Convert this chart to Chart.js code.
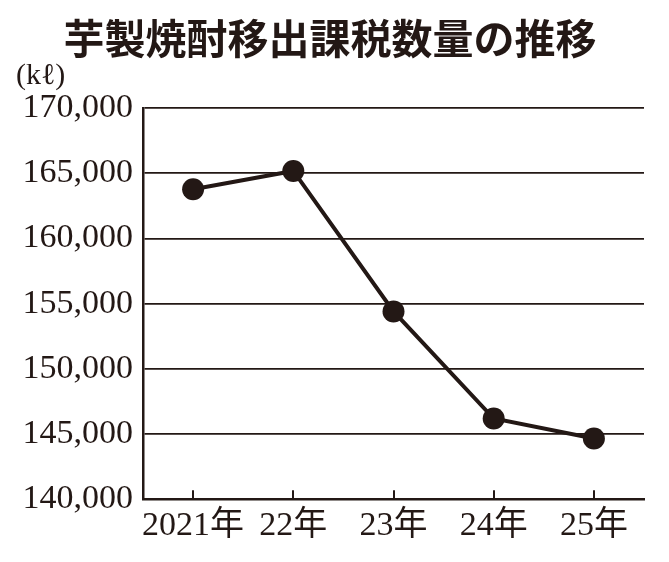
<!DOCTYPE html>
<html>
<head>
<meta charset="utf-8">
<script src="https://cdn.jsdelivr.net/npm/chart.js@4/dist/chart.umd.min.js"></script>
<style>
html,body{margin:0;padding:0;background:#fff;}
#wrap{width:669px;height:562px;}
</style>
</head>
<body>
<div id="wrap"><canvas id="c" width="669" height="562"></canvas></div>
<script>
const TITLE = '芋製焼酎移出課税数量の推移';
const UNIT = '(kℓ)';
const categories = ['2021年', '22年', '23年', '24年', '25年'];
const volumes = [163770, 165180, 154400, 146190, 144650];
const yMin = 140000;
const yMax = 170000;
const yStep = 5000;

const INK = '#231815';
const serif = "'Liberation Serif', 'Noto Sans CJK JP', serif";

const innerTicks = {
  id: 'innerTicks',
  afterDatasetsDraw(chart) {
    const x = chart.scales.x;
    const ctx = chart.ctx;
    ctx.save();
    ctx.strokeStyle = INK;
    ctx.lineWidth = 2;
    for (let i = 0; i < x.ticks.length; i++) {
      const px = Math.round(x.getPixelForTick(i));
      ctx.beginPath();
      ctx.moveTo(px, x.top);
      ctx.lineTo(px, x.top - 9);
      ctx.stroke();
    }
    ctx.restore();
  }
};

new Chart(document.getElementById('c'), {
  type: 'line',
  data: {
    labels: categories,
    datasets: [{
      data: volumes,
      borderColor: INK,
      borderWidth: 4,
      backgroundColor: INK,
      pointRadius: 11,
      pointHoverRadius: 11,
      pointBorderWidth: 0,
      pointBackgroundColor: INK,
      tension: 0
    }]
  },
  options: {
    responsive: false,
    animation: false,
    devicePixelRatio: 1,
    layout: { padding: { left: 16, right: 25, top: 0, bottom: 10 } },
    plugins: {
      legend: { display: false },
      tooltip: { enabled: false },
      title: {
        display: true,
        text: TITLE,
        color: INK,
        font: { family: "'Noto Sans CJK JP', sans-serif", size: 41, weight: 'bold', lineHeight: 1.1 },
        padding: { top: 16, bottom: 0 }
      },
      subtitle: {
        display: true,
        text: UNIT,
        align: 'start',
        color: INK,
        font: { family: serif, size: 30, lineHeight: 1.0 },
        padding: { top: 0, bottom: 17 }
      }
    },
    scales: {
      x: {
        offset: true,
        grid: { display: false, drawTicks: false },
        border: { display: true, color: INK, width: 2.5 },
        ticks: {
          color: INK,
          padding: 6,
          font: { family: serif, size: 34 },
          maxRotation: 0,
          autoSkip: false
        }
      },
      y: {
        min: yMin,
        max: yMax,
        afterFit(scale) { scale.width = 127; },
        grid: { color: INK, lineWidth: 1.8, drawTicks: false },
        border: { display: true, color: INK, width: 2.5 },
        ticks: {
          stepSize: yStep,
          color: INK,
          padding: 10,
          font: { family: serif, size: 34 },
          callback: v => v.toLocaleString('en-US')
        }
      }
    }
  },
  plugins: [innerTicks]
});
</script>
</body>
</html>
